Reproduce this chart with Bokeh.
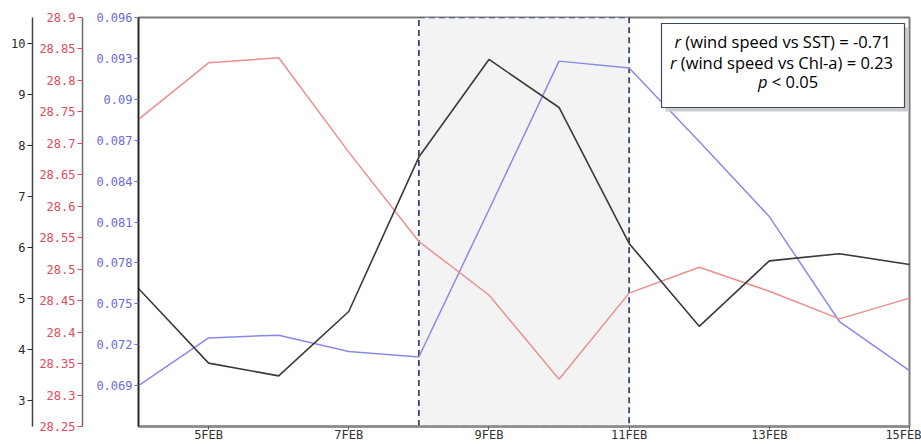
from bokeh.plotting import figure
from bokeh.models import Range1d, LinearAxis, FixedTicker, BoxAnnotation, Label
from bokeh.embed import file_html
from bokeh.resources import INLINE

# Daily series, 4-15 February
days = [4, 5, 6, 7, 8, 9, 10, 11, 12, 13, 14, 15]
wind_speed = [5.20, 3.74, 3.49, 4.75, 7.77, 9.68, 8.74, 6.08, 4.46, 5.74, 5.88, 5.67]
sst = [28.738, 28.828, 28.836, 28.686, 28.544, 28.459, 28.325, 28.462, 28.503,
       28.465, 28.421, 28.454]
chl_a = [0.0690, 0.0725, 0.0727, 0.0715, 0.0711, 0.0819, 0.0928, 0.0923, 0.0869,
         0.0814, 0.0737, 0.0701]

# Axis ticks and their labels
x_ticks = [5, 7, 9, 11, 13, 15]
x_tick_labels = ["5FEB", "7FEB", "9FEB", "11FEB", "13FEB", "15FEB"]
wind_ticks = [3, 4, 5, 6, 7, 8, 9, 10]
wind_tick_labels = ["3", "4", "5", "6", "7", "8", "9", "10"]
sst_ticks = [28.25, 28.3, 28.35, 28.4, 28.45, 28.5, 28.55, 28.6, 28.65, 28.7,
             28.75, 28.8, 28.85, 28.9]
sst_tick_labels = ["28.25", "28.3", "28.35", "28.4", "28.45", "28.5", "28.55",
                   "28.6", "28.65", "28.7", "28.75", "28.8", "28.85", "28.9"]
chl_ticks = [0.069, 0.072, 0.075, 0.078, 0.081, 0.084, 0.087, 0.09, 0.093, 0.096]
chl_tick_labels = ["0.069", "0.072", "0.075", "0.078", "0.081", "0.084", "0.087",
                   "0.09", "0.093", "0.096"]

# Highlighted wind event
event_start = 8
event_end = 11

# Correlation summary (italic symbol, remainder)
stats_lines = [
    ("r", "\u00a0(wind speed vs SST) = -0.71"),
    ("r", "\u00a0(wind speed vs Chl-a) = 0.23"),
    ("p", "\u00a0< 0.05"),
]

WIND_C = "#3a3a3a"
SST_C = "#e98f8f"
CHL_C = "#8a8ae6"
TICK_FONT = "DejaVu Sans Mono"

p = figure(width=921, height=444, output_backend="svg", toolbar_location=None,
           x_range=Range1d(4, 15), y_range=Range1d(0.066, 0.096),
           min_border_left=138, min_border_right=12, min_border_top=17,
           min_border_bottom=0)
p.extra_y_ranges = {"sst": Range1d(28.25, 28.9), "wind": Range1d(2.5, 10.5)}
p.xgrid.visible = False
p.ygrid.visible = False
p.background_fill_color = "white"
p.border_fill_color = "white"
p.outline_line_color = "#7a7a7a"
p.outline_line_width = 2


def style_axis(ax, color, label_color, ticks, labels, tick_out, pad):
    ax.ticker = FixedTicker(ticks=ticks)
    ax.major_label_overrides = {t: s for t, s in zip(ticks, labels)}
    ax.minor_tick_line_color = None
    ax.major_tick_in = 0
    ax.major_tick_out = tick_out
    ax.major_label_standoff = 2
    ax.major_label_text_font = TICK_FONT
    ax.major_label_text_font_size = "12px"
    ax.major_label_text_color = label_color
    ax.major_tick_line_color = label_color
    ax.axis_line_color = color
    ax.axis_line_width = 1.5
    if pad is not None:
        ax.axis_label = " "
        ax.axis_label_text_font_size = "1px"
        ax.axis_label_standoff = pad


# Chl-a axis (next to the frame)
chl_axis = p.yaxis[0]
style_axis(chl_axis, "#222222", "#6a6ad8", chl_ticks, chl_tick_labels, 4, 7)

# SST axis
sst_axis = LinearAxis(y_range_name="sst")
style_axis(sst_axis, "#6e6e6e", "#e04b5a", sst_ticks, sst_tick_labels, 5, 0)
p.add_layout(sst_axis, "left")

# Wind speed axis (outermost)
wind_axis = LinearAxis(y_range_name="wind")
style_axis(wind_axis, "#444444", "#2a2a2a", wind_ticks, wind_tick_labels, 5, None)
p.add_layout(wind_axis, "left")

# Time axis
xa = p.xaxis[0]
xa.ticker = FixedTicker(ticks=x_ticks)
xa.major_label_overrides = {t: s for t, s in zip(x_ticks, x_tick_labels)}
xa.minor_tick_line_color = None
xa.major_tick_in = 0
xa.major_tick_out = 3
xa.major_label_standoff = -2
xa.major_label_text_font = TICK_FONT
xa.major_label_text_font_size = "12px"
xa.major_label_text_color = "#333333"
xa.axis_line_color = "#8a8a8a"
xa.axis_line_width = 2.5
xa.major_tick_line_color = "#555555"

# Shaded wind event
p.add_layout(BoxAnnotation(left=event_start, right=event_end,
                           fill_color="#f3f3f3", fill_alpha=1.0,
                           line_color="#1f3563", line_alpha=1.0, line_width=1.6,
                           line_dash="6 4", level="underlay"))

# Series
p.line(days, chl_a, line_color=CHL_C, line_width=1.5)
p.line(days, sst, line_color=SST_C, line_width=1.5, y_range_name="sst")
p.line(days, wind_speed, line_color=WIND_C, line_width=1.6, y_range_name="wind")

# Statistics box with a drop shadow
box_l, box_r, box_b, box_t = 523, 766, 319, 403
p.add_layout(BoxAnnotation(left=box_l + 4, right=box_r + 4, bottom=box_b - 4,
                           top=box_t - 4, left_units="screen", right_units="screen",
                           bottom_units="screen", top_units="screen",
                           fill_color="#cccccc", fill_alpha=1.0, line_color=None))
p.add_layout(BoxAnnotation(left=box_l, right=box_r, bottom=box_b, top=box_t,
                           left_units="screen", right_units="screen",
                           bottom_units="screen", top_units="screen",
                           fill_color="white", fill_alpha=1.0,
                           line_color="#3c4866", line_alpha=1.0, line_width=1.2))

anchors = [(542.5, 385), (538, 364), (629, 345)]
for (sym, rest), (ax_, ay_) in zip(stats_lines, anchors):
    p.add_layout(Label(x=ax_, y=ay_, x_units="screen", y_units="screen", text=sym,
                       text_font="Open Sans", text_font_size="16.5px",
                       text_font_style="italic", text_align="right",
                       text_baseline="middle", text_color="black"))
    p.add_layout(Label(x=ax_, y=ay_, x_units="screen", y_units="screen", text=rest,
                       text_font="Open Sans", text_font_size="16.5px",
                       text_align="left", text_baseline="middle",
                       text_color="black"))

open("out.html", "w").write(file_html(p, INLINE))
